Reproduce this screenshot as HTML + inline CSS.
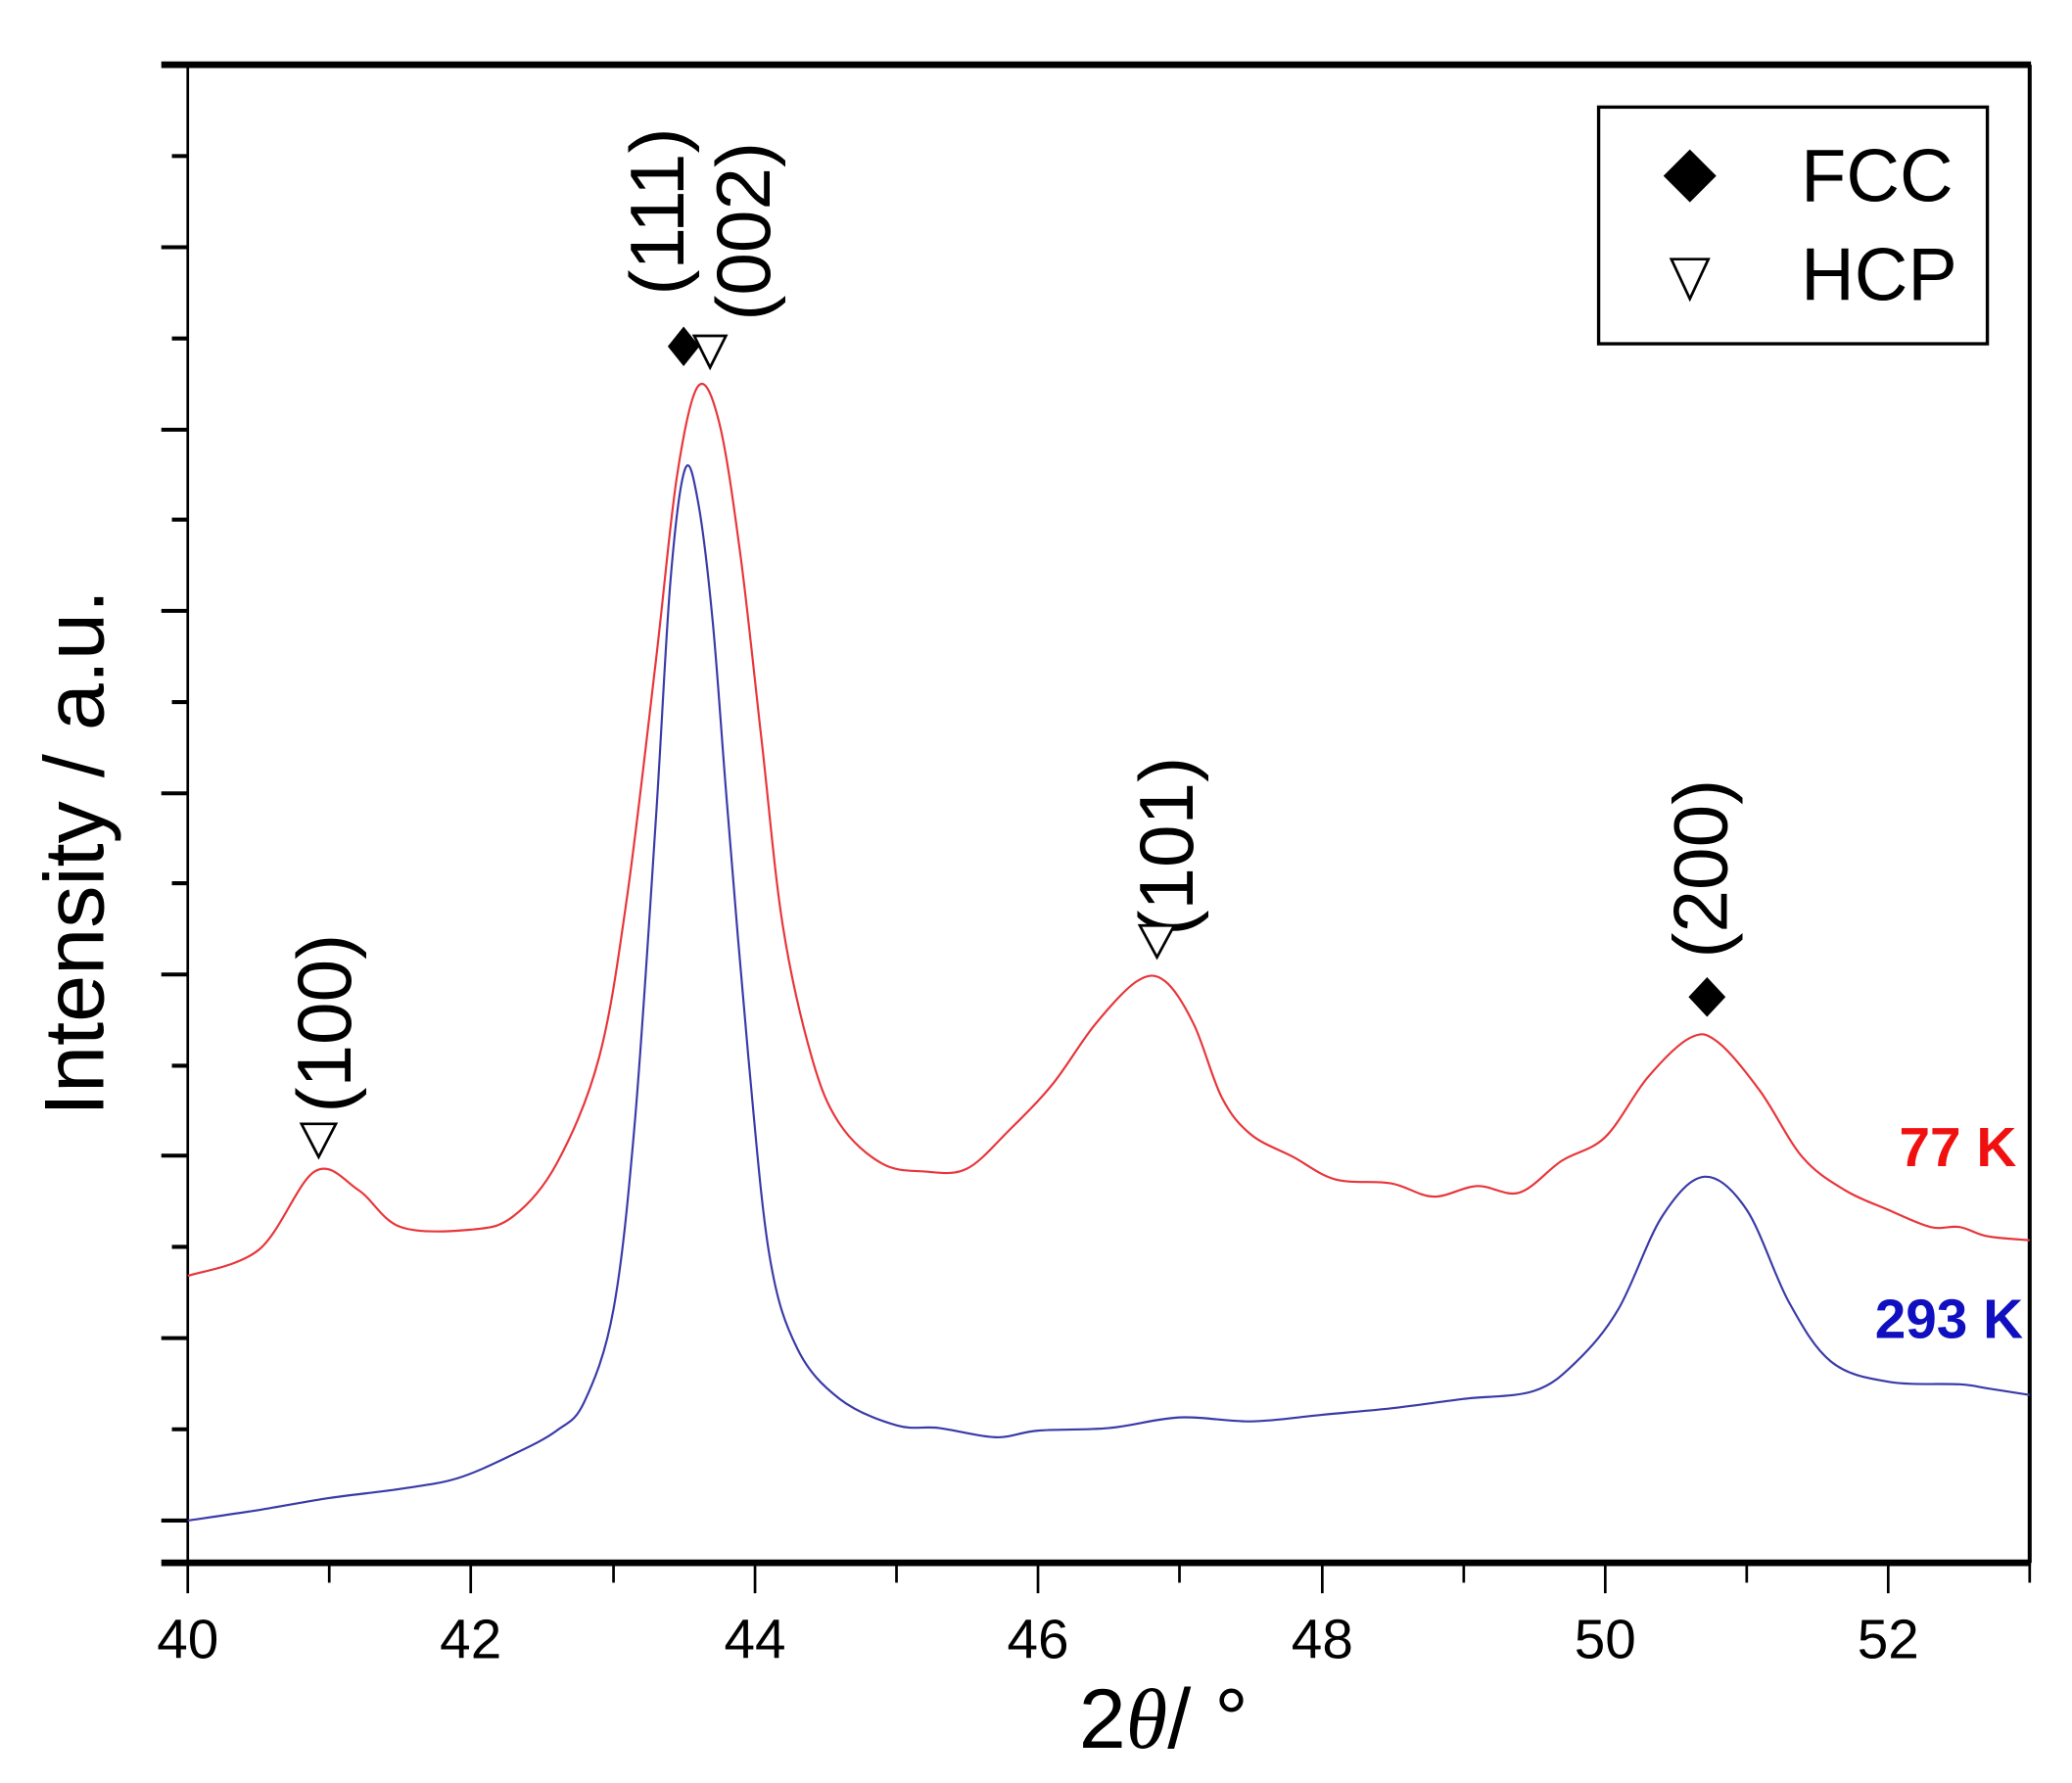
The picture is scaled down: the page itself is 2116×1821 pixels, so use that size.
<!DOCTYPE html>
<html><head><meta charset="utf-8"><style>html,body{margin:0;padding:0;background:#fff}svg{display:block}</style></head>
<body>
<svg width="2116" height="1821" viewBox="0 0 1567 1348.5" preserveAspectRatio="none" xmlns="http://www.w3.org/2000/svg" font-family="Liberation Sans, sans-serif">
<rect width="1567" height="1349" fill="#fff"/>
<line x1="122" y1="49" x2="1536" y2="49" stroke="#000" stroke-width="5"/>
<line x1="122" y1="1182" x2="1536" y2="1182" stroke="#000" stroke-width="5"/>
<line x1="142" y1="49" x2="142" y2="1182" stroke="#000" stroke-width="2"/>
<line x1="1535" y1="49" x2="1535" y2="1182" stroke="#000" stroke-width="3"/>
<g stroke="#000" stroke-width="3">
<line x1="122" y1="1150" x2="142" y2="1150"/><line x1="130" y1="1081" x2="142" y2="1081"/>
<line x1="122" y1="1012" x2="142" y2="1012"/><line x1="130" y1="943" x2="142" y2="943"/>
<line x1="122" y1="874" x2="142" y2="874"/><line x1="130" y1="806" x2="142" y2="806"/>
<line x1="122" y1="737" x2="142" y2="737"/><line x1="130" y1="668" x2="142" y2="668"/>
<line x1="122" y1="600" x2="142" y2="600"/><line x1="130" y1="531" x2="142" y2="531"/>
<line x1="122" y1="462" x2="142" y2="462"/><line x1="130" y1="393" x2="142" y2="393"/>
<line x1="122" y1="325" x2="142" y2="325"/><line x1="130" y1="256" x2="142" y2="256"/>
<line x1="122" y1="187" x2="142" y2="187"/><line x1="130" y1="118" x2="142" y2="118"/>
</g>
<g stroke="#000" stroke-width="2">
<line x1="142" y1="1182" x2="142" y2="1205"/><line x1="249" y1="1182" x2="249" y2="1197"/>
<line x1="356" y1="1182" x2="356" y2="1205"/><line x1="464" y1="1182" x2="464" y2="1197"/>
<line x1="571" y1="1182" x2="571" y2="1205"/><line x1="678" y1="1182" x2="678" y2="1197"/>
<line x1="785" y1="1182" x2="785" y2="1205"/><line x1="892" y1="1182" x2="892" y2="1197"/>
<line x1="1000" y1="1182" x2="1000" y2="1205"/><line x1="1107" y1="1182" x2="1107" y2="1197"/>
<line x1="1214" y1="1182" x2="1214" y2="1205"/><line x1="1321" y1="1182" x2="1321" y2="1197"/>
<line x1="1428" y1="1182" x2="1428" y2="1205"/><line x1="1535" y1="1182" x2="1535" y2="1197"/>
</g>
<g font-size="42" text-anchor="middle" fill="#000">
<text x="142" y="1254">40</text><text x="356" y="1254">42</text><text x="571" y="1254">44</text>
<text x="785" y="1254">46</text><text x="1000" y="1254">48</text><text x="1214" y="1254">50</text><text x="1428" y="1254">52</text>
</g>
<text x="880" y="1322" font-size="64" text-anchor="middle">2<tspan font-family="Liberation Serif, serif" font-style="italic">θ</tspan>/ °</text>
<text transform="translate(78,645) rotate(-90)" font-size="64" text-anchor="middle">Intensity / a.u.</text>
<path id="red" fill="none" stroke="#e8353a" stroke-width="1.6" stroke-linejoin="round" d=""/>
<path id="blue" fill="none" stroke="#3a3aa8" stroke-width="1.6" stroke-linejoin="round" d=""/>
<g font-size="58" fill="#000">
<text transform="translate(265,774) rotate(-90)" text-anchor="middle">(100)</text>
<text transform="translate(517,160) rotate(-90)" text-anchor="middle">(111)</text>
<text transform="translate(582,175) rotate(-90)" text-anchor="middle">(002)</text>
<text transform="translate(902,640) rotate(-90)" text-anchor="middle">(101)</text>
<text transform="translate(1306,657) rotate(-90)" text-anchor="middle">(200)</text>
</g>
<g fill="#fff" stroke="#000" stroke-width="2">
<polygon points="228,850 254,850 241,875"/>
<polygon points="525,254 549,254 537,278"/>
<polygon points="862,700 888,700 875,724"/>
</g>
<g fill="#000">
<polygon points="517,247 529,262 517,277 505,262"/>
<polygon points="1291,739 1305,754 1291,769 1277,754"/>
</g>
<text x="1525" y="882" font-size="42" font-weight="bold" fill="#f01010" text-anchor="end">77 K</text>
<text x="1530" y="1012" font-size="42" font-weight="bold" fill="#1010c0" text-anchor="end">293 K</text>
<rect x="1209" y="81" width="294" height="179" fill="#fff" stroke="#000" stroke-width="2.5"/>
<polygon points="1278,113 1298,133 1278,153 1258,133" fill="#000"/>
<polygon points="1264,196 1292,196 1278,226" fill="#fff" stroke="#000" stroke-width="2"/>
<text x="1362" y="152" font-size="56">FCC</text>
<text x="1362" y="227" font-size="56">HCP</text>
</svg>
<script>
function sm(s){var p=s.trim().split(/\s+/).map(function(q){return q.split(',').map(Number)});
var d='M'+p[0][0]+','+p[0][1];
for(var i=0;i<p.length-1;i++){var a=p[i-1]||p[i],b=p[i],c=p[i+1],e=p[i+2]||c;
d+=' C'+(b[0]+(c[0]-a[0])/6)+','+(b[1]+(c[1]-a[1])/6)+' '+(c[0]-(e[0]-b[0])/6)+','+(c[1]-(e[1]-b[1])/6)+' '+c[0]+','+c[1];}
return d;}
document.getElementById('red').setAttribute('d',sm("142,965 196,945 238,886 271,900 303,928 356,930 388,920 421,880 453,800 474,680 496,500 512,360 528,292 544,320 560,420 576,560 592,700 614,800 635,850 667,880 699,886 731,884 763,855 796,820 828,775 860,742 881,742 903,775 924,830 946,858 978,875 1010,892 1052,895 1084,905 1117,897 1149,902 1181,878 1214,860 1246,815 1278,785 1299,788 1331,825 1363,875 1395,900 1428,915 1460,928 1482,928 1503,935 1535,938"));
document.getElementById('blue').setAttribute('d',sm("142,1150 196,1142 249,1133 303,1126 346,1118 388,1100 421,1082 442,1060 464,990 480,850 496,620 507,440 518,355 528,380 539,470 550,610 566,800 582,950 603,1020 635,1058 678,1078 710,1080 753,1087 785,1082 839,1080 892,1072 946,1075 1000,1070 1053,1065 1107,1058 1160,1052 1192,1030 1224,990 1257,920 1289,890 1321,915 1353,985 1385,1030 1428,1045 1482,1047 1503,1050 1535,1055"));
</script>
</body></html>
